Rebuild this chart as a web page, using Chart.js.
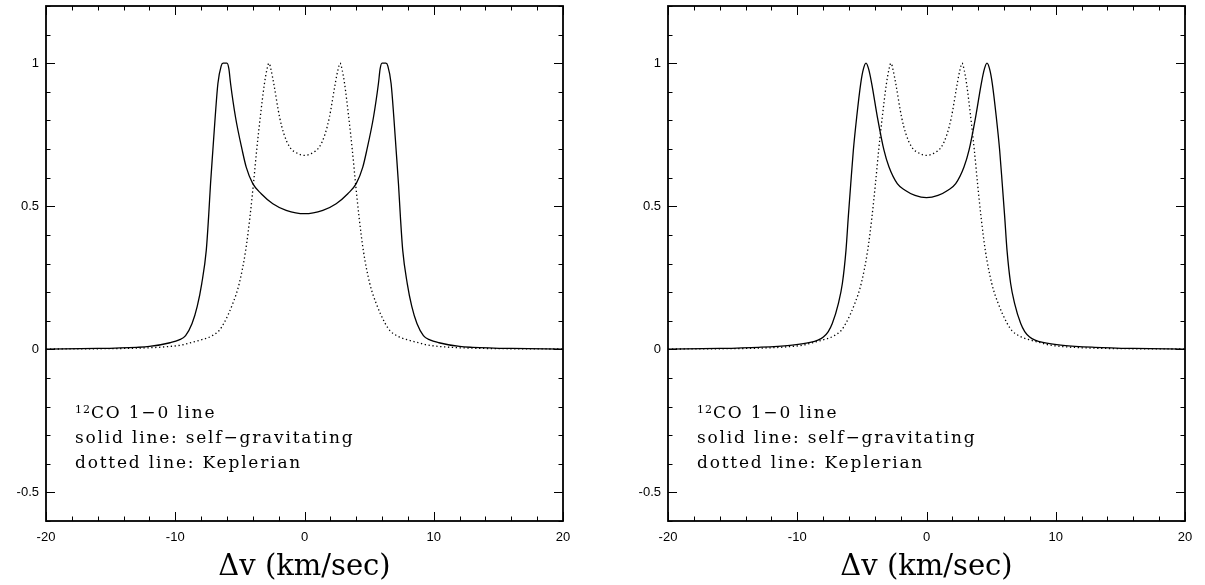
<!DOCTYPE html>
<html>
<head>
<meta charset="utf-8">
<title>CO line profiles</title>
<script src="https://cdn.jsdelivr.net/npm/chart.js@4/dist/chart.umd.min.js"></script>
<style>
    body { margin: 0; background: #fff; overflow: hidden; }
    #wrap { position: relative; width: 1205px; height: 585px; }
    canvas { position: absolute; top: 0; }
    #left { left: 0; }
    #right { left: 622px; }
</style>
</head>
<body>
<div id="wrap">
    <canvas id="left" width="583" height="585"></canvas>
    <canvas id="right" width="583" height="585"></canvas>
</div>
<script>
// Keplerian disk profile (dotted, same in both panels)
const keplerV = [-20, -16, -13, -11, -9.4, -8.9, -8.0, -7.2, -6.6, -6.25, -5.55, -5.05, -4.55, -4.22, -3.95, -3.7, -3.42, -3.1, -2.92, -2.75, -2.58, -2.38, -1.93, -1.6, -1.16, -0.55,
    0, 0.55, 1.16, 1.6, 1.93, 2.38, 2.58, 2.75, 2.92, 3.1, 3.42, 3.7, 3.95, 4.22, 4.55, 5.05, 5.55, 6.25, 6.6, 7.2, 8.0, 8.9, 9.4, 11, 13, 16, 20];
const keplerI = [0.001, 0.002, 0.004, 0.008, 0.016, 0.022, 0.033, 0.046, 0.066, 0.09, 0.16, 0.23, 0.346, 0.463, 0.579, 0.696, 0.812, 0.929, 0.975, 1.0, 0.975, 0.929, 0.812, 0.754, 0.708, 0.685,
    0.678, 0.685, 0.708, 0.754, 0.812, 0.929, 0.975, 1.0, 0.975, 0.929, 0.812, 0.696, 0.579, 0.463, 0.346, 0.23, 0.16, 0.09, 0.066, 0.046, 0.033, 0.022, 0.016, 0.008, 0.004, 0.002, 0.001];

// self-gravitating disk, left panel (solid)
const selfLeftV = [-20, -16, -13, -12, -10.4, -9.7, -9.2, -8.7, -8.3, -7.95, -7.6, -7.42, -7.27, -7.09, -6.91, -6.7, -6.45, -6.3, -6.0, -5.85, -5.72, -5.34, -4.82, -4.51, -4.0, -3.35, -2.45, -1.42,
    0, 1.42, 2.45, 3.35, 4.0, 4.51, 4.82, 5.34, 5.72, 5.85, 6.0, 6.3, 6.45, 6.7, 6.91, 7.09, 7.27, 7.42, 7.6, 7.95, 8.3, 8.7, 9.2, 9.7, 10.4, 12, 13, 16, 20];
const selfLeftI = [0.001, 0.003, 0.007, 0.01, 0.023, 0.033, 0.048, 0.09, 0.15, 0.23, 0.346, 0.463, 0.579, 0.696, 0.812, 0.929, 0.99, 1.0, 1.0, 0.98, 0.929, 0.812, 0.696, 0.637, 0.579, 0.544, 0.509, 0.486,
    0.474, 0.486, 0.509, 0.544, 0.579, 0.637, 0.696, 0.812, 0.929, 0.98, 1.0, 1.0, 0.99, 0.929, 0.812, 0.696, 0.579, 0.463, 0.346, 0.23, 0.15, 0.09, 0.048, 0.033, 0.023, 0.01, 0.007, 0.003, 0.001];

// self-gravitating disk, right panel (solid)
const selfRightV = [-20, -16, -13, -10.56, -9.0, -8.4, -7.98, -7.6, -7.29, -6.82, -6.51, -6.23, -6.05, -5.86, -5.66, -5.4, -5.09, -4.88, -4.68, -4.48, -4.24, -3.8, -3.29, -2.9, -2.26, -1.66, -0.89,
    0, 0.89, 1.66, 2.26, 2.9, 3.29, 3.8, 4.24, 4.48, 4.68, 4.88, 5.09, 5.4, 5.66, 5.86, 6.05, 6.23, 6.51, 6.82, 7.29, 7.6, 7.98, 8.4, 9.0, 10.56, 13, 16, 20];
const selfRightI = [0.001, 0.003, 0.007, 0.014, 0.024, 0.032, 0.043, 0.062, 0.09, 0.16, 0.23, 0.346, 0.463, 0.579, 0.696, 0.812, 0.929, 0.98, 1.0, 0.98, 0.929, 0.812, 0.696, 0.637, 0.579, 0.556, 0.538,
    0.53, 0.538, 0.556, 0.579, 0.637, 0.696, 0.812, 0.929, 0.98, 1.0, 0.98, 0.929, 0.812, 0.696, 0.579, 0.463, 0.346, 0.23, 0.16, 0.09, 0.062, 0.043, 0.032, 0.024, 0.014, 0.007, 0.003, 0.001];

// axes
const xMin = -20, xMax = 20, xStep = 2, xLabelEvery = 10;
const yMin = -0.6, yMax = 1.2, yStep = 0.1, yLabelEvery = 0.5;
const xTitle = 'Δv (km/sec)';
const noteLines = ['CO 1−0 line', 'solid line: self−gravitating', 'dotted line: Keplerian'];
const noteIsotope = '12';

function toPoints(vs, is) {
    return vs.map((v, i) => ({ x: v, y: is[i] }));
}

function isMultiple(value, step) {
    const r = value / step;
    return Math.abs(r - Math.round(r)) < 1e-6;
}

// inward ticks on all four sides plus the frame
const framePlugin = {
    id: 'frame',
    afterDraw(chart) {
        const ctx = chart.ctx;
        const a = chart.chartArea;
        const xs = chart.scales.x, ys = chart.scales.y;
        ctx.save();
        ctx.strokeStyle = '#000';
        ctx.lineWidth = 1;
        ctx.beginPath();
        xs.ticks.forEach(t => {
            const px = Math.round(xs.getPixelForValue(t.value)) + 0.5;
            const len = isMultiple(t.value, xLabelEvery) ? 9 : 4.5;
            ctx.moveTo(px, a.bottom); ctx.lineTo(px, a.bottom - len);
            ctx.moveTo(px, a.top); ctx.lineTo(px, a.top + len);
        });
        ys.ticks.forEach(t => {
            const py = Math.round(ys.getPixelForValue(t.value)) + 0.5;
            const len = isMultiple(t.value, yLabelEvery) ? 9 : 4.5;
            ctx.moveTo(a.left, py); ctx.lineTo(a.left + len, py);
            ctx.moveTo(a.right, py); ctx.lineTo(a.right - len, py);
        });
        ctx.stroke();
        ctx.lineWidth = 1.8;
        ctx.strokeRect(a.left, a.top, a.right - a.left, a.bottom - a.top);
        ctx.restore();
    }
};

// the three-line note in the lower left of each panel
const notePlugin = {
    id: 'note',
    afterDraw(chart) {
        const ctx = chart.ctx;
        const a = chart.chartArea;
        const x0 = a.left + 29;
        const base = a.top + 412;
        const gap = 25;
        ctx.save();
        ctx.fillStyle = '#000';
        ctx.textBaseline = 'alphabetic';
        ctx.letterSpacing = '1px';
        ctx.font = '11px "DejaVu Serif"';
        ctx.fillText(noteIsotope, x0, base - 5);
        const supW = ctx.measureText(noteIsotope).width;
        ctx.letterSpacing = '1.8px';
        ctx.font = '17px "DejaVu Serif"';
        ctx.fillText(noteLines[0], x0 + supW, base);
        ctx.fillText(noteLines[1], x0, base + gap);
        ctx.fillText(noteLines[2], x0, base + gap * 2);
        ctx.restore();
    }
};

function makePanel(canvasId, solidV, solidI) {
    const ctx = document.getElementById(canvasId).getContext('2d');
    return new Chart(ctx, {
        type: 'line',
        data: {
            datasets: [
                {
                    label: 'self-gravitating',
                    data: toPoints(solidV, solidI),
                    borderColor: '#000',
                    borderWidth: 1.3,
                    pointRadius: 0,
                    cubicInterpolationMode: 'monotone',
                },
                {
                    label: 'Keplerian',
                    data: toPoints(keplerV, keplerI),
                    borderColor: '#000',
                    borderWidth: 1.3,
                    borderDash: [1.3, 2.6],
                    pointRadius: 0,
                    cubicInterpolationMode: 'monotone',
                },
            ],
        },
        options: {
            responsive: false,
            animation: false,
            devicePixelRatio: 1,
            layout: { padding: { top: 6, right: 20, left: 0, bottom: 0 } },
            plugins: { legend: { display: false }, tooltip: { enabled: false } },
            scales: {
                x: {
                    type: 'linear',
                    min: xMin,
                    max: xMax,
                    grid: { display: false, drawTicks: false },
                    border: { display: false },
                    ticks: {
                        stepSize: xStep,
                        autoSkip: false,
                        maxRotation: 0,
                        padding: 9,
                        color: '#000',
                        font: { family: '"Liberation Sans", Arial, sans-serif', size: 13 },
                        callback: v => isMultiple(v, xLabelEvery) ? String(Math.round(v)) : '',
                    },
                    title: {
                        display: true,
                        text: xTitle,
                        color: '#000',
                        font: { family: '"DejaVu Serif", serif', size: 29 },
                        padding: { top: 0, bottom: 0 },
                    },
                    afterFit: s => { s.height = 64; s.paddingLeft = 0; s.paddingRight = 0; },
                },
                y: {
                    type: 'linear',
                    min: yMin,
                    max: yMax,
                    grid: { display: false, drawTicks: false },
                    border: { display: false },
                    ticks: {
                        stepSize: yStep,
                        autoSkip: false,
                        padding: 7,
                        color: '#000',
                        font: { family: '"Liberation Sans", Arial, sans-serif', size: 13 },
                        callback: v => isMultiple(v, yLabelEvery) ? String(Math.round(v * 10) / 10) : '',
                    },
                    afterFit: s => { s.width = 46; s.paddingTop = 0; s.paddingBottom = 0; },
                },
            },
        },
        plugins: [framePlugin, notePlugin],
    });
}

document.addEventListener('DOMContentLoaded', function () {
    makePanel('left', selfLeftV, selfLeftI);
    makePanel('right', selfRightV, selfRightI);
});
</script>
</body>
</html>
